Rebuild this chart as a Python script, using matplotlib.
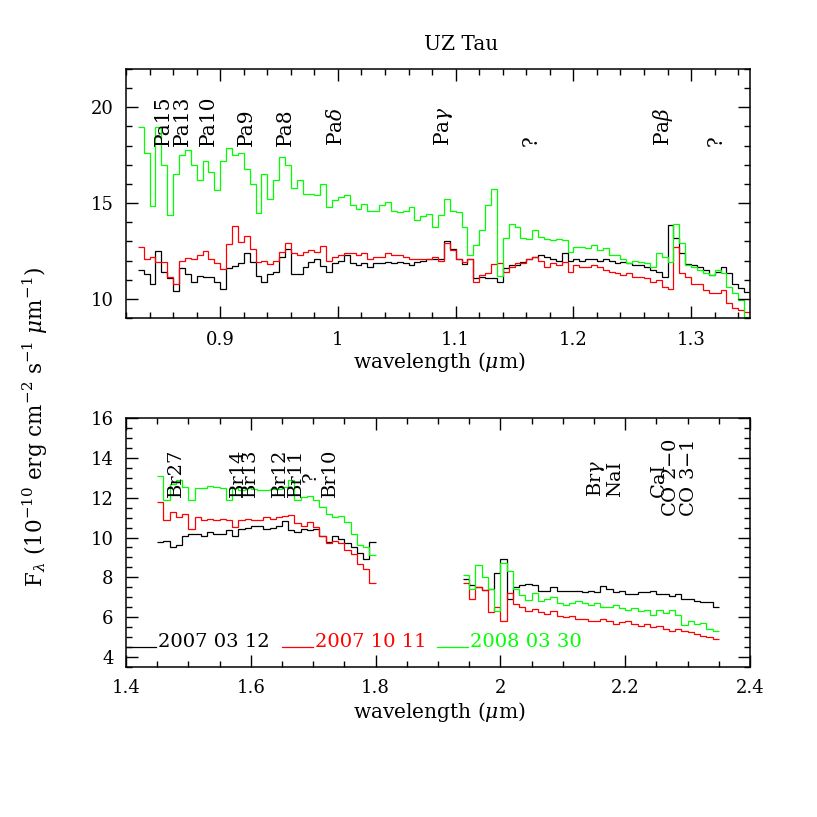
import numpy as np
import matplotlib
matplotlib.use('Agg')
import matplotlib.pyplot as plt
from matplotlib.ticker import MultipleLocator, FuncFormatter

plt.rcParams['font.family'] = ['DejaVu Serif']
plt.rcParams['mathtext.fontset'] = 'dejavuserif'

# ---------------- data ----------------
# top panel (J band), bins of 0.005 um starting at 0.830 um
top_start, top_step = 0.830, 0.005
top_black = [11.53, 11.3, 10.8, 12.5, 11.4, 11.1, 10.4, 11.6, 11.3, 10.9,
             11.2, 11.15, 11.15, 10.9, 10.5, 11.6, 11.7, 11.85, 12.4, 11.9,
             11.2, 10.9, 11.3, 11.4, 12.2, 12.6, 11.3, 11.3, 11.67, 11.93,
             12.1, 11.7, 11.4, 11.85, 12.0, 12.3, 11.85, 11.76, 11.85, 11.67,
             11.85, 11.85, 11.93, 11.85, 11.93, 11.85, 11.76, 11.93, 12.0, 12.1,
             12.1, 12.1, 13.0, 12.6, 12.1, 11.8, 12.1, 11.07, 11.15, 11.07,
             11.07, 10.9, 11.6, 11.76, 11.76, 11.93, 12.1, 12.2, 12.28, 12.2,
             12.1, 12.0, 12.37, 12.0, 12.1, 12.0, 12.1, 12.1, 12.0, 12.1,
             12.0, 11.85, 11.93, 11.85, 11.76, 11.76, 11.67, 11.5, 11.41, 11.15,
             13.85, 13.2, 12.37, 11.8, 11.76, 11.67, 11.5, 11.24, 11.4, 11.67,
             11.33, 10.8, 10.55, 10.37]
top_red = [12.7, 12.1, 12.2, 11.9, 11.93, 11.15, 10.8, 12.0, 12.14, 12.1,
           12.3, 12.5, 12.1, 11.85, 11.55, 12.85, 13.8, 12.97, 13.27, 12.6,
           11.93, 12.0, 11.8, 11.95, 12.45, 12.9, 12.37, 12.3, 12.45, 12.54,
           12.45, 12.75, 11.95, 12.2, 12.28, 12.37, 12.37, 12.28, 12.37, 12.1,
           12.2, 12.2, 12.37, 12.28, 12.28, 12.2, 12.1, 12.1, 12.1, 12.1,
           12.2, 12.0, 12.9, 12.54, 12.1, 11.93, 12.1, 10.9, 11.24, 11.33,
           11.8, 11.85, 11.41, 11.67, 11.85, 11.85, 12.1, 12.2, 12.0, 11.67,
           11.85, 11.76, 11.93, 11.41, 11.76, 11.67, 11.67, 11.76, 11.67, 11.5,
           11.41, 11.33, 11.24, 11.33, 11.15, 11.15, 11.07, 10.9, 10.98, 10.63,
           10.5, 12.7, 11.33, 11.15, 10.8, 10.8, 10.46, 10.28, 10.3, 10.46,
           9.76, 9.5, 9.42, 9.33]
top_green = [18.97, 17.6, 14.85, 18.97, 17.0, 14.36, 16.5, 17.5, 17.75, 17.0,
             16.2, 17.2, 16.6, 15.7, 17.2, 17.9, 17.5, 17.6, 16.8, 16.0,
             14.5, 16.5, 15.2, 16.2, 17.4, 17.0, 15.8, 16.2, 15.5, 15.5,
             15.4, 16.0, 14.8, 15.15, 15.3, 15.4, 14.9, 14.7, 14.95, 14.6,
             14.6, 14.9, 15.05, 14.6, 14.55, 14.6, 14.8, 14.1, 14.3, 14.45,
             13.75, 14.36, 15.23, 14.6, 14.55, 13.75, 12.3, 12.8, 13.6, 14.9,
             15.75, 11.2, 13.2, 13.9, 13.75, 13.2, 13.15, 13.6, 13.25, 13.1,
             13.06, 13.1, 13.06, 12.45, 12.7, 12.7, 12.63, 12.8, 12.54, 12.63,
             12.28, 12.28, 12.1, 11.85, 12.0, 11.93, 11.85, 11.67, 12.37, 12.2,
             11.9, 13.9, 12.9, 11.76, 11.67, 11.5, 11.33, 11.24, 11.5, 11.33,
             10.63, 10.28, 9.94, 9.07]

# bottom panel, H band segment, bins of 0.01 um from 1.45 um
h_start, h_step = 1.45, 0.01
h_black = [9.8, 9.85, 9.52, 9.6, 10.1, 10.2, 10.2, 10.1, 10.27, 10.2,
           10.2, 10.36, 10.1, 10.44, 10.5, 10.6, 10.6, 10.44, 10.5, 10.6,
           10.85, 10.4, 10.27, 10.44, 10.36, 10.45, 10.1, 9.8, 10.1, 9.95,
           9.7, 9.5, 9.2, 8.9, 9.8]
h_red = [11.8, 10.86, 11.3, 11.03, 11.2, 10.45, 11.03, 10.86, 10.95, 10.86,
         10.95, 10.86, 10.53, 10.86, 10.95, 10.86, 10.86, 11.03, 10.95, 11.03,
         11.06, 11.15, 10.75, 10.6, 10.78, 10.53, 10.1, 9.7, 9.85, 9.7,
         9.35, 9.18, 8.68, 8.4, 7.7]
h_green = [13.1, 11.9, 12.7, 12.88, 12.54, 11.9, 12.5, 12.5, 12.57, 12.54,
           12.5, 11.9, 12.5, 12.37, 12.5, 12.46, 12.37, 12.4, 12.46, 12.46,
           12.54, 12.9, 11.9, 12.03, 12.1, 11.87, 11.53, 11.2, 11.03, 11.1,
           10.78, 10.2, 9.6, 9.5, 9.1]

# bottom panel, K band segment, bins of 0.01 um from 1.94 um
k_start, k_step = 1.94, 0.01
k_black = [7.9, 7.6, 7.5, 7.35, 7.4, 8.2, 8.9, 6.9, 7.5, 7.6,
           7.65, 7.6, 7.3, 7.33, 7.5, 7.33, 7.33, 7.33, 7.33, 7.25,
           7.33, 7.25, 7.58, 7.42, 7.25, 7.33, 7.17, 7.17, 7.25, 7.25,
           7.33, 7.17, 7.17, 7.08, 7.17, 6.92, 6.92, 6.83, 6.75, 6.75,
           6.5]
k_red = [7.7, 6.9, 7.5, 7.35, 6.25, 6.5, 5.8, 7.2, 6.66, 6.5,
         6.33, 6.4, 6.25, 6.17, 6.33, 6.08, 6.0, 6.08, 5.9, 5.9,
         5.83, 5.83, 5.9, 5.83, 5.66, 5.75, 5.83, 5.66, 5.57, 5.66,
         5.5, 5.57, 5.4, 5.33, 5.4, 5.33, 5.25, 5.17, 5.08, 5.0,
         4.92]
k_green = [8.1, 7.4, 8.6, 8.0, 7.4, 6.3, 8.7, 8.3, 7.4, 7.1,
           6.85, 7.2, 6.8, 6.9, 7.0, 6.7, 6.6, 6.7, 6.8, 6.7,
           6.6, 6.7, 6.5, 6.5, 6.6, 6.45, 6.35, 6.45, 6.3, 6.35,
           6.1, 6.35, 6.2, 6.35, 6.1, 5.6, 5.8, 5.65, 5.7, 5.4,
           5.3]

dates = ['2007 03 12', '2007 10 11', '2008 03 30']
colors = ['black', '#ff0000', '#00ff00']

top_lines = ['Pa15', 'Pa13', 'Pa10', 'Pa9', 'Pa8', r'Pa$\delta$', r'Pa$\gamma$',
             '?', r'Pa$\beta$', '?']
top_line_wl = [0.8515, 0.8676, 0.8897, 0.9226, 0.9557, 0.9987, 1.0894,
               1.1638, 1.2762, 1.3217]
top_line_y = [18.0] * len(top_lines)

bot_lines = ['Br27', 'Br14', 'Br13', 'Br12', 'Br11', '?', 'Br10',
             r'Br$\gamma$', 'NaI', 'CaI', 'CO 2$-$0', 'CO 3$-$1']
bot_line_wl = [1.4808, 1.579, 1.599, 1.6464, 1.672, 1.696, 1.7264,
               2.1536, 2.1832, 2.2536, 2.2736, 2.3016]
bot_line_y = [12.02, 12.02, 12.02, 12.02, 12.02, 12.78, 12.02,
              12.02, 12.02, 12.02, 11.03, 11.03]

# ---------------- figure ----------------
fig = plt.figure(figsize=(8.17, 8.17), dpi=100)
ax1 = fig.add_axes([0.15422, 0.61077, 0.76377, 0.30477])
ax2 = fig.add_axes([0.15422, 0.18360, 0.76377, 0.30477])

lw = 0.9

def edges(start, step, vals):
    return start + step * np.arange(len(vals) + 1)

for vals, c in zip([top_black, top_red, top_green], colors):
    ax1.stairs(vals, edges(top_start, top_step, vals), baseline=None,
               color=c, lw=lw)
for vals, c in zip([h_black, h_red, h_green], colors):
    ax2.stairs(vals, edges(h_start, h_step, vals), baseline=None,
               color=c, lw=lw)
for vals, c in zip([k_black, k_red, k_green], colors):
    ax2.stairs(vals, edges(k_start, k_step, vals), baseline=None,
               color=c, lw=lw)

ax1.set_xlim(0.82, 1.35)
ax1.set_ylim(9, 22)
ax2.set_xlim(1.4, 2.4)
ax2.set_ylim(3.5, 16)

fmt = FuncFormatter(lambda v, p: '%g' % round(v, 3))
ax1.xaxis.set_major_locator(MultipleLocator(0.1))
ax1.xaxis.set_minor_locator(MultipleLocator(0.02))
ax1.yaxis.set_major_locator(MultipleLocator(5))
ax1.yaxis.set_minor_locator(MultipleLocator(1))
ax2.xaxis.set_major_locator(MultipleLocator(0.2))
ax2.xaxis.set_minor_locator(MultipleLocator(0.05))
ax2.yaxis.set_major_locator(MultipleLocator(2))
ax2.yaxis.set_minor_locator(MultipleLocator(0.5))

for ax in (ax1, ax2):
    ax.xaxis.set_major_formatter(fmt)
    ax.yaxis.set_major_formatter(fmt)
    ax.tick_params(which='both', direction='in', top=True, right=True,
                   width=1.0, labelsize=13, color='black')
    ax.tick_params(which='major', length=8.5, pad=9)
    ax.tick_params(which='minor', length=4.5)
    for s in ax.spines.values():
        s.set_linewidth(1.1)

for name, wl, y in zip(top_lines, top_line_wl, top_line_y):
    ax1.text(wl, y, name, rotation=90, ha='center', va='bottom', fontsize=14.5)
for name, wl, y in zip(bot_lines, bot_line_wl, bot_line_y):
    ax2.text(wl, y, name, rotation=90, ha='center', va='bottom', fontsize=14)

# legend (line segment at text baseline, as in the original)
leg_line_x = [(0.0, 0.048), (0.250, 0.2997), (0.4984, 0.548)]
leg_y = 0.0803
for (x0, x1), d, c in zip(leg_line_x, dates, colors):
    ax2.plot([x0, x1], [leg_y, leg_y], color=c, lw=lw, transform=ax2.transAxes)
    ax2.text(x1 + 0.003, leg_y, d, color=c, fontsize=14, ha='left',
             va='baseline', transform=ax2.transAxes)

fig.text(461 / 817, 1 - 45 / 817, 'UZ Tau', ha='center', va='center', fontsize=14.5)
fig.text(439 / 817, 1 - 362 / 817, r'wavelength ($\mu$m)', ha='center',
         va='center', fontsize=14.5)
fig.text(439 / 817, 1 - 712 / 817, r'wavelength ($\mu$m)', ha='center',
         va='center', fontsize=14.5)
fig.text(35 / 817, 1 - 427 / 817,
         r'F$_\lambda$ (10$^{-10}$ erg cm$^{-2}$ s$^{-1}$ $\mu$m$^{-1}$)',
         rotation=90, ha='center', va='center', fontsize=15.5)

fig.savefig('out.png', dpi=100)
